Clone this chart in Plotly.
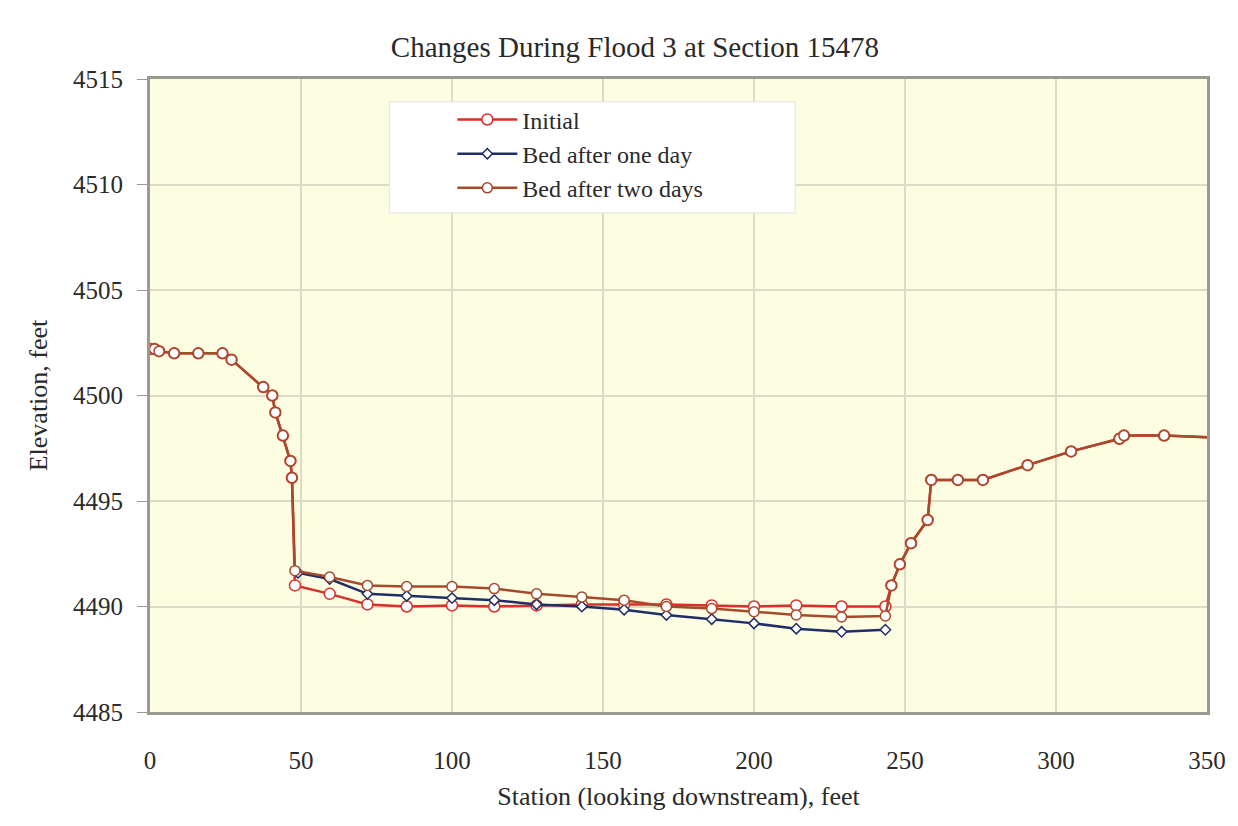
import plotly.graph_objects as go

# Cross-section survey, Section 15478 (station in feet, elevation in feet)
initial_station = [0, 1.5, 3, 8, 16, 24, 27, 37.5, 40.5, 41.5, 44, 46.5, 47,
                   48, 59.5, 72, 85, 100, 114, 128, 143, 157, 171, 186, 200, 214, 229, 243.5,
                   245.5, 248.3, 252, 257.5, 258.7, 267.5, 275.8, 290.6, 305, 321, 322.5, 335.8, 353]
initial_elev = [4502.2, 4502.2, 4502.1, 4502.0, 4502.0, 4502.0, 4501.7, 4500.4, 4500.0, 4499.2, 4498.1, 4496.9, 4496.1,
                4491.0, 4490.6, 4490.1, 4490.0, 4490.05, 4490.0, 4490.05, 4490.1, 4490.1, 4490.1, 4490.05, 4490.0, 4490.05, 4490.0, 4490.0,
                4491.0, 4492.0, 4493.0, 4494.1, 4496.0, 4496.0, 4496.0, 4496.7, 4497.35, 4497.95, 4498.1, 4498.1, 4498.0]

one_day_station = [49, 59.5, 72, 85, 100, 114, 128, 143, 157, 171, 186, 200, 214, 229, 243.5]
one_day_elev = [4491.6, 4491.3, 4490.6, 4490.5, 4490.4, 4490.3, 4490.1, 4490.0, 4489.85,
                4489.6, 4489.4, 4489.2, 4488.95, 4488.8, 4488.9]

two_day_station = [0, 1.5, 3, 8, 16, 24, 27, 37.5, 40.5, 41.5, 44, 46.5, 47,
                   48, 59.5, 72, 85, 100, 114, 128, 143, 157, 171, 186, 200, 214, 229, 243.5,
                   245.5, 248.3, 252, 257.5, 258.7, 267.5, 275.8, 290.6, 305, 321, 322.5, 335.8, 353]
two_day_elev = [4502.2, 4502.2, 4502.1, 4502.0, 4502.0, 4502.0, 4501.7, 4500.4, 4500.0, 4499.2, 4498.1, 4496.9, 4496.1,
                4491.7, 4491.4, 4491.0, 4490.95, 4490.95, 4490.85, 4490.6, 4490.45, 4490.3, 4490.0, 4489.9, 4489.75, 4489.6, 4489.5, 4489.55,
                4491.0, 4492.0, 4493.0, 4494.1, 4496.0, 4496.0, 4496.0, 4496.7, 4497.35, 4497.95, 4498.1, 4498.1, 4498.0]

x_ticks = [0, 50, 100, 150, 200, 250, 300, 350]
y_ticks = [4485, 4490, 4495, 4500, 4505, 4510, 4515]

FONT = "Liberation Serif, Times New Roman, serif"
TXT = "#2a2a2a"

fig = go.Figure()

fig.add_trace(go.Scatter(
    x=initial_station, y=initial_elev, mode="lines+markers", name="Initial",
    line=dict(color="#D8302A", width=2.5),
    marker=dict(symbol="circle", size=11, color="white", line=dict(color="#D8302A", width=1.5)),
))
fig.add_trace(go.Scatter(
    x=one_day_station, y=one_day_elev, mode="lines+markers", name="Bed after one day",
    line=dict(color="#1F2E66", width=2.5),
    marker=dict(symbol="diamond", size=8, color="white", line=dict(color="#1F2E66", width=1.5)),
))
fig.add_trace(go.Scatter(
    x=two_day_station, y=two_day_elev, mode="lines+markers", name="Bed after two days",
    line=dict(color="#A64A2C", width=2.5),
    marker=dict(symbol="circle", size=10, color="white", line=dict(color="#A64A2C", width=1.5)),
))

# legend box (white panel inside the plot)
fig.add_shape(type="rect", xref="paper", yref="paper",
              x0=0.2264, x1=0.6104, y0=0.7884, y1=0.9639,
              fillcolor="white", line=dict(color="#E2E2E2", width=1), layer="above")

fig.update_layout(
    width=1222, height=810,
    margin=dict(l=142, r=23, t=71, b=103),
    paper_bgcolor="white",
    plot_bgcolor="#FDFDE2",
    font=dict(family=FONT, size=24, color=TXT),
    title=dict(text="Changes During Flood 3 at Section 15478", x=0.513, xanchor="center",
               y=0.952, yanchor="middle", font=dict(family=FONT, size=29, color=TXT)),
    showlegend=True,
    legend=dict(x=0.286, y=0.971, xanchor="left", yanchor="top",
                bgcolor="rgba(0,0,0,0)", borderwidth=0,
                font=dict(family=FONT, size=24, color=TXT), itemwidth=60,
                tracegroupgap=0),
    xaxis=dict(
        range=[0, 350], tickvals=x_ticks, showgrid=True, gridcolor="#DCDCC6", gridwidth=1.5,
        zeroline=False, showline=True, linecolor="#9A9A90", linewidth=3, mirror=True,
        ticks="", ticklabelstandoff=24, ticklabeloverflow="allow", automargin="height+bottom",
        tickfont=dict(family=FONT, size=25, color=TXT),
        title=dict(text="Station (looking downstream), feet", standoff=14,
                   font=dict(family=FONT, size=26, color=TXT)),
    ),
    yaxis=dict(
        range=[4485, 4515], tickvals=y_ticks, showgrid=True, gridcolor="#DCDCC6", gridwidth=1.5,
        zeroline=False, showline=True, linecolor="#9A9A90", linewidth=3, mirror=True,
        ticks="outside", ticklen=10, tickcolor="#9A9A90", ticklabelstandoff=9,
        tickfont=dict(family=FONT, size=25, color=TXT),
        title=dict(text="Elevation, feet", standoff=18,
                   font=dict(family=FONT, size=26, color=TXT)),
    ),
)

fig.write_html("out.html")
